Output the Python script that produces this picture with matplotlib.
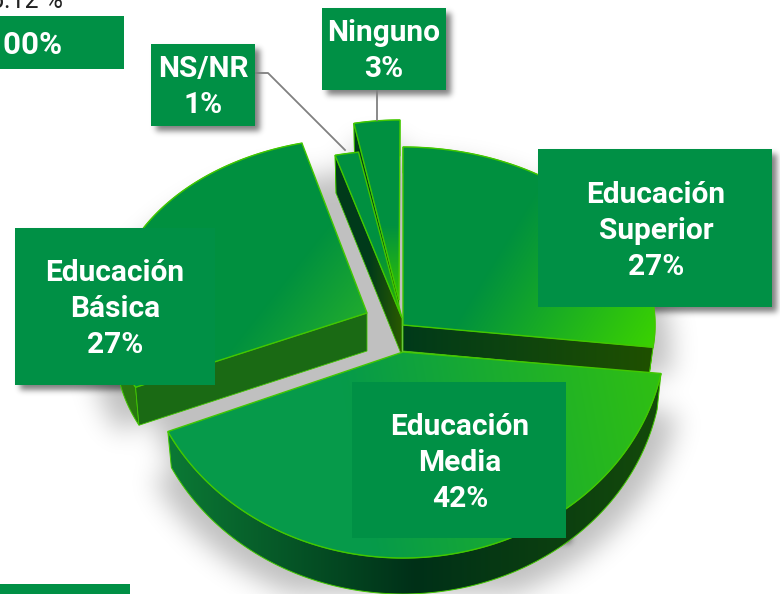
import numpy as np
import matplotlib
matplotlib.use('Agg')
import matplotlib.pyplot as plt
from matplotlib.colors import to_rgb
from matplotlib.patches import Polygon,Rectangle
from matplotlib.path import Path

W,H = 780,594
plt.rcParams['font.family'] = ['Roboto','DejaVu Sans']

# data, clockwise from the top of the pie
labels = ['Educación\nSuperior','Educación\nMedia','Educación\nBásica','NS/NR','Ninguno']
shares = [27,42,27,1,3]
top_text = '5.12 %'
total_text = '100%'

green = '#009045'
edge  = '#42c800'

##slice geometry : apex, ellipse centre, rx, ry, depth, angle corrections (perspective)
geo = [
    dict(apex=(403,325),c=(403,325),rx=252,ry=178,d=26,da=(0,0),
         top=('#00903f','#3bd300',(500,250),(656,345)),side=('#003a1a','#1f5000')),
    dict(apex=(403,352),c=(403,329),rx=263,ry=229,d=36,da=(4,-5),
         top=('#069a4a','#30c012',(350,430),(664,372)),side=('#0b7a35','#003018','#144a0a')),
    dict(apex=(367,313),c=(362,313),rx=250,ry=175,d=38,da=(-3.5,0.5),
         top=('#00903f','#20ab2e',(300,260),(367,313)),side=('#1a6a14','#1a6a14')),
    dict(apex=(402,318),c=(402,318),rx=269,ry=168,d=38,da=(0,1.5),
         top=('#009040','#2eb000',(380,250),(400,315)),side=('#003a1a','#003a1a','#2a5a00')),
    dict(apex=(399,300),c=(400,310),rx=246,ry=190,d=36,da=(0,0),
         top=('#009040','#33c400',(400,225),(400,300)),side=('#003a1a','#003a1a','#1f5000')),
]
boxes = [(538,149,772,307,656,229),(352,382,566,538,460,461),(15,228,215,385,115,307),
         (151,44,255,126,203,85),(322,8,446,90,384,49)]

yy,xx = np.mgrid[0:H,0:W]+0.5
pts = np.c_[xx.ravel(),yy.ravel()]

def blur(m,s):
    x = np.arange(-int(3*s),int(3*s)+1)
    k = np.exp(-x**2/(2*s**2));k/=k.sum()
    m = np.apply_along_axis(lambda r:np.convolve(r,k,'same'),0,m)
    return np.apply_along_axis(lambda r:np.convolve(r,k,'same'),1,m)

def mask(poly):
    return Path(poly).contains_points(pts).reshape(H,W).astype(float)

def show_shadow(ax,m,alpha):
    rgba = np.zeros((H,W,4))
    rgba[...,3] = np.clip(m,0,1)*alpha
    ax.imshow(rgba,extent=(0,W,H,0),aspect='auto',interpolation='bilinear',zorder=1)

def fill(ax,poly,cols,p0,p1,gamma=1.):
    ''' linear gradient between p0 and p1, clipped by poly'''
    p0,p1 = np.array(p0,float),np.array(p1,float)
    v = p1-p0
    t = np.clip(((xx-p0[0])*v[0]+(yy-p0[1])*v[1])/(v**2).sum(),0,1)**gamma
    cols = np.array([to_rgb(c) for c in cols])
    s = np.linspace(0,1,len(cols))
    img = np.dstack([np.interp(t,s,cols[:,i]) for i in range(3)])
    im = ax.imshow(img,extent=(0,W,H,0),aspect='auto',interpolation='bilinear',zorder=2)
    im.set_clip_path(Polygon(poly,transform=ax.transData))

fig = plt.figure(figsize=(W/100,H/100),dpi=100)
ax = fig.add_axes([0,0,1,1])

### slices
a = np.cumsum([0]+shares)*3.6
slices = []
for i,g in enumerate(geo):
    t = np.deg2rad(np.linspace(a[i]+g['da'][0],a[i+1]+g['da'][1],120))
    cx,cy = g['c']
    arc = np.c_[cx+g['rx']*np.sin(t),cy-g['ry']*np.cos(t)]
    low = np.c_[cx+(arc[:,0]-cx)*0.985,arc[:,1]+g['d']]
    slices.append((arc,low))

### pie shadow
m = np.zeros((H,W))
for (arc,low),g in zip(slices,geo):
    ap = np.array(g['apex'],float)
    poly = np.vstack([ap,low,ap+[0,g['d']]])
    poly = (poly-[400,360])*1.08+[400,362]
    m = np.maximum(m,mask(poly))
t = np.linspace(0,2*np.pi,200)
m = np.maximum(m,mask(np.c_[392+245*np.sin(t),372+205*np.cos(t)]))
show_shadow(ax,blur(m,13),0.25)

### slices, back to front
for i in [2,4,3,0,1]:
    g = geo[i]
    arc,low = slices[i]
    ap = np.array(g['apex'],float)
    x0,x1 = arc[:,0].min(),arc[:,0].max()
    # outer band
    band = np.vstack([arc,low[::-1]])
    cols = ('#2a7a10','#1a6a14') if i==2 else g['side']
    fill(ax,band,cols,(x0,0),(x1,0))
    ax.add_patch(Polygon(band,fc='none',ec=edge,lw=0.7,zorder=2))
    # cut face, the one seen from the front
    if i!=1:
        j = -1 if i==0 else 0
        cut = np.array([ap,arc[j],low[j],ap+[0,g['d']]])
        fill(ax,cut,g['side'],(cut[:,0].min(),0),(cut[:,0].max(),0))
        ax.add_patch(Polygon(cut,fc='none',ec=edge,lw=0.6,zorder=2))
    # top face
    top = np.vstack([ap,arc])
    c0,c1,p0,p1 = g['top']
    fill(ax,top,(c0,c1),p0,p1)
    ax.add_patch(Polygon(top,fc='none',ec=edge,lw=1,zorder=2))

### leader lines
ax.plot([255,268,345],[73,73,150],color='#808080',lw=1.3,zorder=3)
ax.plot([377,377],[90,120],color='#808080',lw=1.3,zorder=3)

### label boxes
m = np.zeros((H,W))
for x0,y0,x1,y1,_,_ in boxes:
    m[y0+5:y1+5,x0+5:x1+5] = 1
show_shadow(ax,blur(m,3),0.5)
for (x0,y0,x1,y1,xt,yt),lab,s in zip(boxes,labels,shares):
    ax.add_patch(Rectangle((x0,y0),x1-x0,y1-y0,fc=green,ec='none',zorder=4))
    ax.text(xt,yt+2,'%s\n%d%%' %(lab,s),color='w',fontsize=21.5,fontweight='bold',
            ha='center',va='center',linespacing=1.37,zorder=5)

### remains of the neighbouring panels, cut by the image border
ax.add_patch(Rectangle((0,16),124,53,fc=green,ec='none',zorder=4))
ax.add_patch(Rectangle((0,584),130,10,fc=green,ec='none',zorder=4))
ax.text(63,54,total_text,color='w',fontsize=22.5,fontweight='bold',ha='right',va='baseline',zorder=5)
ax.text(63,8,top_text,color='#222222',fontsize=18,ha='right',va='baseline',zorder=5)

ax.set_xlim(0,W)
ax.set_ylim(H,0)
ax.axis('off')
fig.savefig('out.png',dpi=100)
